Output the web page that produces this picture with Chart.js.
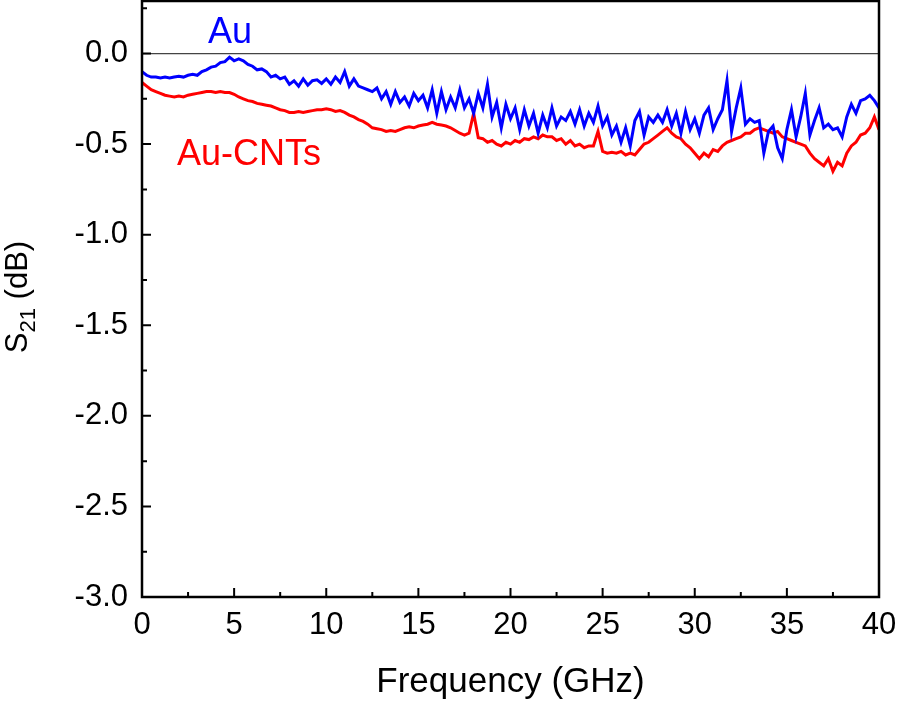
<!DOCTYPE html>
<html>
<head>
<meta charset="utf-8">
<script src="https://cdn.jsdelivr.net/npm/chart.js@4/dist/chart.umd.min.js"></script>
<style>
  html, body { margin: 0; padding: 0; background: #fff; }
  #wrap { width: 898px; height: 707px; position: relative; }
</style>
</head>
<body>
<div id="wrap"><canvas id="myChart" width="898" height="707"></canvas></div>
<script>
// frequency step 0.25 GHz, 0..40
var freqStep = 0.25;
var xTicks = [0, 5, 10, 15, 20, 25, 30, 35, 40];
var yTicks = [-3.0, -2.5, -2.0, -1.5, -1.0, -0.5, 0.0];

var s21Au = [
  -0.10, -0.12, -0.13, -0.13, -0.135, -0.13, -0.135, -0.13, -0.125, -0.13,
  -0.12, -0.115, -0.12, -0.10, -0.09, -0.075, -0.07, -0.05, -0.045, -0.02,
  -0.04, -0.03, -0.04, -0.06, -0.07, -0.09, -0.085, -0.10, -0.13, -0.12,
  -0.14, -0.13, -0.17, -0.15, -0.18, -0.14, -0.175, -0.15, -0.145, -0.165,
  -0.14, -0.17, -0.13, -0.16, -0.10, -0.18, -0.14, -0.18, -0.19, -0.20,
  -0.21, -0.19, -0.25, -0.21, -0.28, -0.21, -0.27, -0.24, -0.29, -0.22,
  -0.26, -0.23, -0.30, -0.20, -0.33, -0.21, -0.31, -0.24, -0.30, -0.20,
  -0.30, -0.25, -0.33, -0.22, -0.30, -0.17, -0.35, -0.27, -0.41, -0.28,
  -0.36, -0.30, -0.42, -0.31, -0.40, -0.33, -0.44, -0.34, -0.41, -0.30,
  -0.40, -0.35, -0.37, -0.32, -0.39, -0.31, -0.40, -0.33, -0.38, -0.29,
  -0.40, -0.35, -0.45, -0.40, -0.49, -0.41, -0.51, -0.37, -0.32, -0.45,
  -0.35, -0.38, -0.34, -0.38, -0.31, -0.40, -0.33, -0.44, -0.32, -0.42,
  -0.36, -0.44, -0.34, -0.30, -0.42, -0.36, -0.31, -0.15, -0.43, -0.30,
  -0.19, -0.39, -0.36, -0.38, -0.37, -0.55, -0.43, -0.40, -0.52, -0.58,
  -0.42, -0.31, -0.46, -0.35, -0.22, -0.45, -0.37, -0.30, -0.41, -0.39,
  -0.42, -0.41, -0.46, -0.35, -0.28, -0.33, -0.26, -0.25, -0.23, -0.26,
  -0.30
];

var s21AuCNT = [
  -0.16, -0.18, -0.20, -0.21, -0.22, -0.23, -0.235, -0.24, -0.235, -0.24,
  -0.23, -0.225, -0.22, -0.215, -0.21, -0.21, -0.215, -0.21, -0.215, -0.215,
  -0.225, -0.24, -0.25, -0.26, -0.265, -0.275, -0.28, -0.285, -0.29, -0.30,
  -0.31, -0.315, -0.325, -0.325, -0.32, -0.325, -0.32, -0.315, -0.31, -0.31,
  -0.305, -0.31, -0.32, -0.315, -0.325, -0.34, -0.35, -0.365, -0.375, -0.39,
  -0.41, -0.415, -0.42, -0.43, -0.425, -0.43, -0.42, -0.41, -0.405, -0.41,
  -0.40, -0.395, -0.39, -0.38, -0.39, -0.395, -0.40, -0.41, -0.425, -0.44,
  -0.45, -0.44, -0.33, -0.465, -0.47, -0.49, -0.48, -0.50, -0.51, -0.49,
  -0.50, -0.48, -0.49, -0.47, -0.475, -0.46, -0.47, -0.45, -0.46, -0.46,
  -0.48, -0.47, -0.50, -0.48, -0.51, -0.50, -0.52, -0.51, -0.51, -0.43,
  -0.54, -0.55, -0.545, -0.55, -0.54, -0.56, -0.55, -0.56, -0.53, -0.50,
  -0.49, -0.47, -0.45, -0.43, -0.41, -0.44, -0.46, -0.47, -0.50, -0.52,
  -0.55, -0.58, -0.55, -0.57, -0.53, -0.54, -0.51, -0.49, -0.48, -0.47,
  -0.46, -0.44, -0.44, -0.42, -0.41, -0.42, -0.43, -0.44, -0.43, -0.46,
  -0.47, -0.48, -0.49, -0.50, -0.51, -0.55, -0.58, -0.60, -0.62, -0.58,
  -0.65, -0.60, -0.62, -0.55, -0.51, -0.49, -0.45, -0.44, -0.41, -0.35,
  -0.42
];

var fontName = "'Liberation Sans', Arial, sans-serif";

function toPoints(arr) {
  var pts = [];
  for (var i = 0; i < arr.length; i++) {
    pts.push({ x: i * freqStep, y: arr[i] });
  }
  return pts;
}

// frame, inward ticks, zero line, labels and axis titles
var decor = {
  id: 'decor',
  beforeDatasetsDraw: function (chart) {
    var c = chart.ctx, a = chart.chartArea;
    var y0 = chart.scales.y.getPixelForValue(0);
    c.save();
    c.strokeStyle = '#444';
    c.lineWidth = 1.2;
    c.beginPath();
    c.moveTo(a.left, y0);
    c.lineTo(a.right, y0);
    c.stroke();
    c.restore();
  },
  afterDraw: function (chart) {
    var c = chart.ctx, a = chart.chartArea;
    var xs = chart.scales.x, ys = chart.scales.y;
    c.save();
    c.strokeStyle = '#000';
    c.lineWidth = 2.5;
    c.strokeRect(a.left, a.top, a.right - a.left, a.bottom - a.top);

    c.lineWidth = 2;
    c.beginPath();
    for (var v = 0; v <= 40; v += 2.5) {
      var px = xs.getPixelForValue(v);
      var len = (v % 5 === 0) ? 9 : 5;
      c.moveTo(px, a.bottom);
      c.lineTo(px, a.bottom - len);
    }
    for (var w = -3; w <= 0.26; w += 0.25) {
      var py = ys.getPixelForValue(w);
      var len2 = (Math.abs(w * 2 - Math.round(w * 2)) < 1e-6) ? 9 : 5;
      c.moveTo(a.left, py);
      c.lineTo(a.left + len2, py);
    }
    c.stroke();

    c.font = '36px ' + fontName;
    c.textBaseline = 'alphabetic';
    c.textAlign = 'left';
    c.fillStyle = '#0000ff';
    c.fillText('Au', 208, 43);
    c.fillStyle = '#ff0000';
    c.fillText('Au-CNTs', 177, 165);

    c.fillStyle = '#000';
    c.font = '35px ' + fontName;
    c.textAlign = 'center';
    c.fillText('Frequency (GHz)', (a.left + a.right) / 2, 692);

    // y title with subscript
    c.translate(27, 297);
    c.rotate(-Math.PI / 2);
    c.textAlign = 'left';
    var big = '31px ' + fontName, small = '22px ' + fontName;
    c.font = big;
    var wS = c.measureText('S').width;
    c.font = small;
    var w21 = c.measureText('21').width;
    c.font = big;
    var wRest = c.measureText(' (dB)').width;
    var x0 = -(wS + w21 + wRest) / 2;
    c.fillText('S', x0, 0);
    c.font = small;
    c.fillText('21', x0 + wS, 8);
    c.font = big;
    c.fillText(' (dB)', x0 + wS + w21, 0);
    c.restore();
  }
};

new Chart(document.getElementById('myChart').getContext('2d'), {
  type: 'line',
  data: {
    datasets: [
      {
        label: 'Au',
        data: toPoints(s21Au),
        borderColor: '#0000ff',
        borderWidth: 3,
        pointRadius: 0,
        tension: 0
      },
      {
        label: 'Au-CNTs',
        data: toPoints(s21AuCNT),
        borderColor: '#ff0000',
        borderWidth: 3,
        pointRadius: 0,
        tension: 0
      }
    ]
  },
  options: {
    responsive: false,
    animation: false,
    layout: { padding: { top: 1, right: 19, left: 0, bottom: 0 } },
    plugins: { legend: { display: false }, tooltip: { enabled: false } },
    scales: {
      x: {
        type: 'linear',
        min: 0,
        max: 40,
        afterBuildTicks: function (s) { s.ticks = xTicks.map(function (v) { return { value: v }; }); },
        afterFit: function (s) { s.height = 110; s.paddingLeft = 0; s.paddingRight = 0; },
        grid: { display: false, drawTicks: false },
        border: { display: false },
        ticks: {
          color: '#000',
          padding: 10,
          maxRotation: 0,
          font: { family: fontName, size: 31 }
        }
      },
      y: {
        min: -3,
        max: 0.29,
        afterBuildTicks: function (s) { s.ticks = yTicks.map(function (v) { return { value: v }; }); },
        afterFit: function (s) { s.width = 142; s.paddingTop = 0; s.paddingBottom = 0; },
        grid: { display: false, drawTicks: false },
        border: { display: false },
        ticks: {
          color: '#000',
          padding: 14,
          font: { family: fontName, size: 31 },
          callback: function (v) { return v.toFixed(1); }
        }
      }
    }
  },
  plugins: [decor]
});
</script>
</body>
</html>
